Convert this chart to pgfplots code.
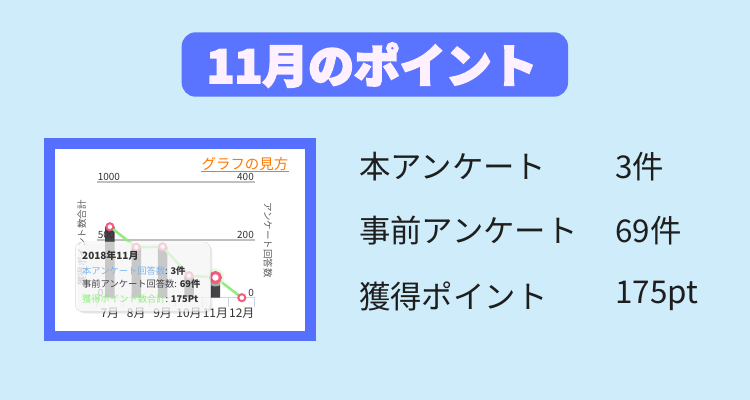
\documentclass[border=0pt]{standalone}
\usepackage{fontspec}
\setmainfont{Noto Sans CJK JP}
\newfontfamily\titlefont[FakeBold=4]{Noto Sans CJK JP}
\usepackage{pgfplots}
\pgfplotsset{compat=1.18}
\definecolor{bgc}{RGB}{206,236,249}
\definecolor{bannerc}{RGB}{90,116,255}
\definecolor{framec}{RGB}{85,112,255}
\definecolor{titlec}{RGB}{255,240,255}
\definecolor{orangec}{RGB}{255,120,0}
\definecolor{axisc}{RGB}{204,214,235}
\definecolor{gridc}{RGB}{192,192,192}
\definecolor{labc}{RGB}{51,51,51}
\definecolor{barc}{RGB}{67,67,72}
\definecolor{linec}{RGB}{144,237,125}
\definecolor{haloc}{RGB}{215,248,208}
\definecolor{pinkc}{RGB}{241,92,128}
\definecolor{bluec}{RGB}{124,181,236}
\definecolor{rtxt}{RGB}{30,30,30}
\definecolor{ttb}{RGB}{215,215,215}
\begin{document}
\begin{tikzpicture}
\useasboundingbox (0,0) rectangle (750bp,400bp);
\fill[bgc] (0,0) rectangle (750bp,400bp);
% banner
\fill[bannerc, rounded corners=14bp] (181.7bp,303.3bp) rectangle (568bp,367.7bp);
\node[text=titlec, font=\titlefont\bfseries\fontsize{46}{50}\selectfont, inner sep=0] at (372bp,335bp) {11月のポイント};
% frame
\fill[framec] (43.5bp,59bp) rectangle (316bp,261.7bp);
\fill[white] (55bp,69.3bp) rectangle (305.3bp,250.7bp);
\node[anchor=east, text=orangec, font=\fontsize{14.5}{16}\selectfont, inner sep=0] (gm) at (288.5bp,236bp) {グラフの見方};
\draw[orangec, line width=0.8bp] ([yshift=-0.5bp]gm.south west) -- ([yshift=-0.5bp]gm.south east);
% bars axis (right)
\begin{axis}[
  at={(96.7bp,102.3bp)}, anchor=south west,
  scale only axis, width=158.3bp, height=115.4bp,
  xmin=-0.5, xmax=5.5, ymin=0, ymax=400,
  axis x line*=bottom, axis y line*=right,
  y axis line style={draw=none},
  x axis line style={draw=axisc, line width=1bp},
  xtick={0,1,2,3,4,5},
  xticklabels={7月,8月,9月,10月,11月,12月},
  minor xtick={-0.5,0.5,1.5,2.5,3.5,4.5,5.5},
  major tick length=0pt, minor tick length=9bp,
  tick align=outside,
  minor x tick style={draw=axisc, line width=1bp},
  major x tick style={draw=none},
  xticklabel style={anchor=center, yshift=-15.6bp, font=\fontsize{12}{14}\selectfont, text=labc},
  ytick={0,200,400},
  ytick style={draw=none},
  yticklabel style={anchor=south east, inner sep=1bp, font=\fontsize{10}{12}\selectfont, text=labc},
  extra y ticks={200,400}, extra y tick labels={},
  extra y tick style={grid=major},
  major grid style={draw=gridc, line width=2bp},
  ylabel={アンケート回答数},
  every axis y label/.style={at={(axis description cs:1.082,0.5)}, rotate=-90, anchor=center, font=\fontsize{9.5}{11}\selectfont, text=labc!80},
  /pgf/number format/assume math mode=true,
  /pgf/number format/1000 sep={},
  clip=false,
]
\addplot[ybar, bar width=9.5bp, fill=barc, draw=none] coordinates {(0,246) (1,175) (2,177) (3,76) (4,69) (5,0)};
\end{axis}
% line axis (left)
\begin{axis}[
  at={(96.7bp,102.3bp)}, anchor=south west,
  scale only axis, width=158.3bp, height=115.4bp,
  xmin=-0.5, xmax=5.5, ymin=0, ymax=1000,
  hide x axis,
  axis y line*=left, y axis line style={draw=none},
  ytick={0,500,1000}, ytick style={draw=none},
  yticklabel style={anchor=south west, inner sep=1bp, font=\fontsize{10}{12}\selectfont, text=labc},
  ylabel={獲得ポイント数合計},
  every axis y label/.style={at={(axis description cs:-0.095,0.474)}, rotate=90, anchor=center, font=\fontsize{9.5}{11}\selectfont, text=labc!80},
  /pgf/number format/assume math mode=true,
  /pgf/number format/1000 sep={},
  clip=false,
]
\addplot[only marks, draw=none, mark=*, mark size=9bp, mark options={draw opacity=0, fill=haloc, fill opacity=0.6}] coordinates {(4,175)};
\addplot[draw=linec, line width=2.5bp, mark=*, mark size=3.5bp, mark options={draw=pinkc, fill=white, line width=2bp}] coordinates {(0,615) (1,437) (2,442) (3,191) (4,175) (5,0)};
\addplot[only marks, draw=pinkc, mark=*, mark size=5bp, mark options={draw=pinkc, fill=white, line width=3bp}] coordinates {(4,175)};
\end{axis}
% tooltip
\fill[black, opacity=0.05, rounded corners=8bp] (76.5bp,87bp) rectangle (211.7bp,157bp);
\fill[black, opacity=0.05, rounded corners=8bp] (77.5bp,86bp) rectangle (212.7bp,156bp);
\filldraw[fill=white, fill opacity=0.72, draw=ttb, rounded corners=7bp] (75.3bp,88.5bp) rectangle (210.5bp,158bp);
\node[anchor=west, inner sep=0, font=\bfseries\fontsize{10}{12}\selectfont, text=labc] at (82bp,144.3bp) {2018年11月};
\node[anchor=west, inner sep=0, font=\fontsize{9.3}{11}\selectfont] at (82bp,129.3bp) {\textcolor{bluec}{本アンケート回答数}\textcolor{labc}{: \textbf{3件}}};
\node[anchor=west, inner sep=0, font=\fontsize{9.3}{11}\selectfont] at (82bp,116bp) {\textcolor{barc}{事前アンケート回答数}\textcolor{labc}{: \textbf{69件}}};
\node[anchor=west, inner sep=0, font=\fontsize{9.3}{11}\selectfont] at (82bp,101bp) {\textcolor{linec}{獲得ポイント数合計}\textcolor{labc}{: \textbf{175Pt}}};
% right texts
\node[anchor=west, inner sep=0, font=\fontsize{31.5}{34}\selectfont, text=rtxt] at (359bp,233.5bp) {本アンケート};
\node[anchor=west, inner sep=0, font=\fontsize{31.5}{34}\selectfont, text=rtxt] at (359bp,169bp) {事前アンケート};
\node[anchor=west, inner sep=0, font=\fontsize{31.5}{34}\selectfont, text=rtxt] at (359bp,104bp) {獲得ポイント};
\node[anchor=west, inner sep=0, font=\fontsize{31.5}{34}\selectfont, text=rtxt] at (615bp,233.5bp) {3件};
\node[anchor=west, inner sep=0, font=\fontsize{31.5}{34}\selectfont, text=rtxt] at (615bp,169bp) {69件};
\node[anchor=west, inner sep=0, font=\fontsize{31.5}{34}\selectfont, text=rtxt] at (615bp,104bp) {175pt};
\end{tikzpicture}
\end{document}
